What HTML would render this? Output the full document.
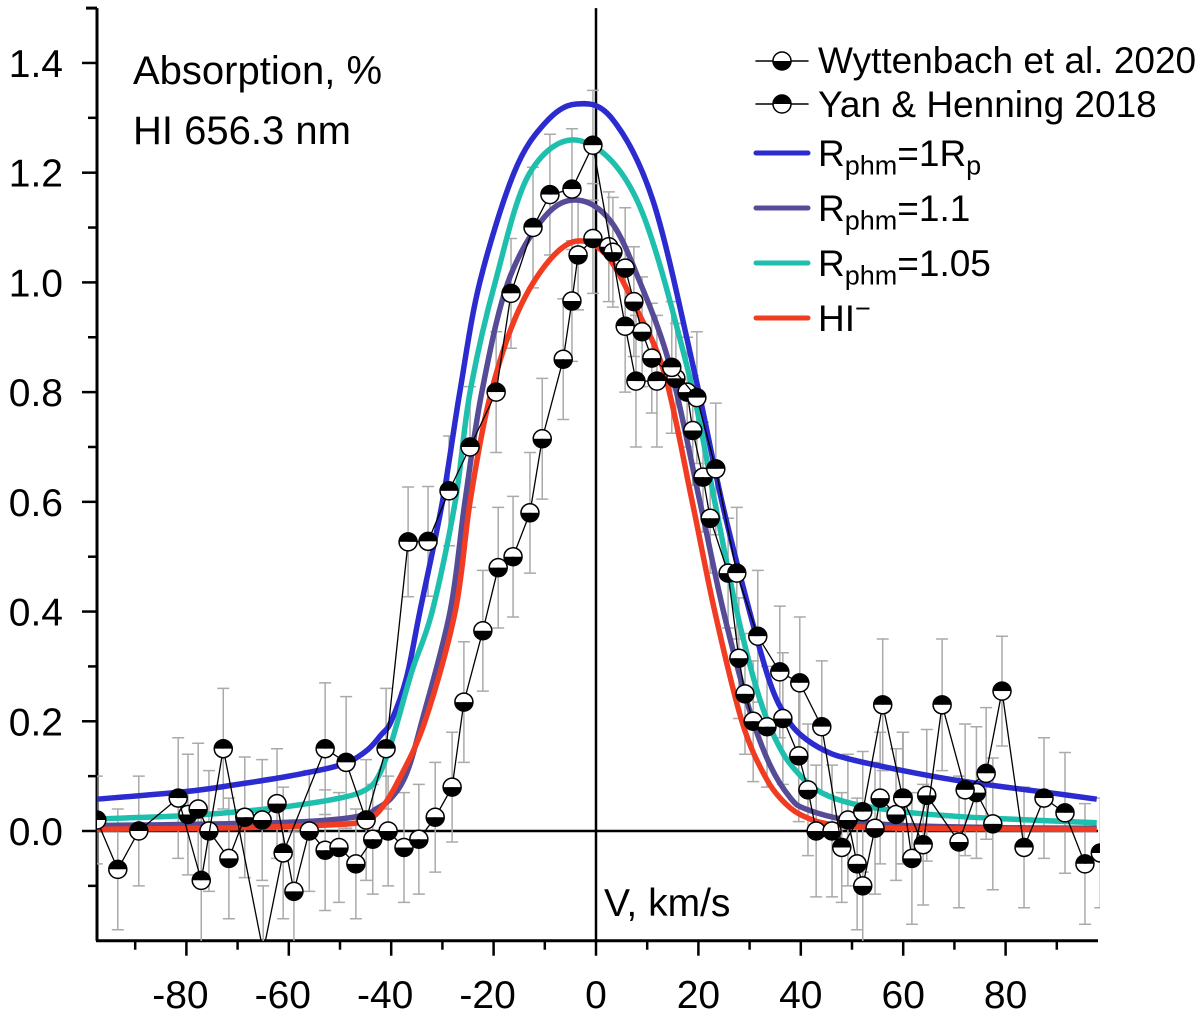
<!DOCTYPE html>
<html><head><meta charset="utf-8"><style>
html,body{margin:0;padding:0;background:#fff;}
svg{display:block;font-family:"Liberation Sans",Arial,sans-serif;}
</style></head><body>
<svg id="chart" width="1200" height="1014" viewBox="0 0 1200 1014" xmlns="http://www.w3.org/2000/svg">
<defs>
<clipPath id="plotclip"><rect x="97" y="0" width="1003" height="941"/></clipPath>
</defs>
<g id="axes"></g>
<g id="errs" clip-path="url(#plotclip)"></g>
<g id="models" clip-path="url(#plotclip)"></g>
<g id="data" clip-path="url(#plotclip)"></g>
<text x="133" y="84" font-size="40">Absorption, %</text>
<text x="133" y="144" font-size="40">HI 656.3 nm</text>
<text x="604" y="916" font-size="39">V, km/s</text>
<g id="legend"></g>
</svg>
<script>
const NS='http://www.w3.org/2000/svg';
const xTicks=[-80,-60,-40,-20,0,20,40,60,80];
const yTicks=[0.0,0.2,0.4,0.6,0.8,1.0,1.2,1.4];
const yTickLabels=['0.0','0.2','0.4','0.6','0.8','1.0','1.2','1.4'];

const yanV=[-97.5,-93.4,-89.3,-81.6,-77.1,-72.8,-65,-61.1,-52.9,-48.8,-44.9,-41,-36.7,-32.8,-28.7,-24.6,-19.5,-16.6,-12.3,-9,-4.7,-0.6,5.7,7.8,11.9,14.8,19.7,23.4,27.5,31.6,35.9,39.8,44.1,48,52.1,56,59.9,63.9,67.6,72.1,76.2,79.3,83.6,87.5,91.6,95.5,98.5];
const yanA=[0.02,-0.07,0,0.06,-0.09,0.15,-0.22,-0.04,0.15,0.125,0.02,0.15,0.527,0.528,0.62,0.70,0.80,0.98,1.10,1.16,1.17,1.25,0.92,0.82,0.82,0.845,0.79,0.66,0.47,0.355,0.29,0.27,0.19,-0.03,0.035,0.23,0.06,-0.025,0.23,0.075,0.105,0.255,-0.03,0.06,0.033,-0.06,-0.04];
const yanE=[0.08,0.11,0.10,0.11,0.12,0.11,0.12,0.12,0.12,0.12,0.11,0.11,0.10,0.10,0.10,0.11,0.11,0.10,0.11,0.11,0.11,0.10,0.12,0.12,0.12,0.12,0.12,0.12,0.12,0.12,0.12,0.12,0.12,0.10,0.11,0.12,0.12,0.11,0.12,0.12,0.12,0.10,0.11,0.11,0.11,0.11,0.10];

const wytV=[-79.7,-77.7,-75.6,-71.7,-68.6,-65.2,-62.3,-59,-56,-52.9,-50.2,-46.9,-43.6,-40.6,-37.5,-34.6,-31.4,-28.1,-25.8,-22.1,-19.1,-16.2,-12.9,-10.5,-6.4,-4.7,-3.5,-0.6,2.5,3.3,5.7,7.4,9,10.9,15.6,17.8,18.9,20.9,22.3,25.8,27.9,29.1,30.7,33.4,36.5,39.6,41.4,43,46.1,49.2,51,52.1,54.5,55.5,58.6,60,61.7,64.6,70.9,74.3,77.5];
const wytA=[0.03,0.04,0,-0.05,0.025,0.02,0.05,-0.11,0,-0.035,-0.03,-0.06,-0.015,0,-0.03,-0.015,0.025,0.08,0.235,0.365,0.48,0.50,0.58,0.715,0.86,0.966,1.05,1.08,1.065,1.055,1.026,0.965,0.91,0.862,0.825,0.80,0.73,0.645,0.57,0.47,0.315,0.25,0.20,0.19,0.205,0.137,0.075,0,0,0.02,-0.06,-0.10,0.005,0.06,0.03,0.06,-0.05,0.065,-0.02,0.07,0.013];
const wytE=[0.11,0.12,0.11,0.11,0.11,0.11,0.10,0.11,0.11,0.11,0.10,0.10,0.10,0.10,0.10,0.10,0.10,0.10,0.11,0.11,0.11,0.11,0.11,0.11,0.11,0.11,0.10,0.10,0.10,0.10,0.11,0.10,0.10,0.10,0.10,0.10,0.10,0.10,0.10,0.10,0.11,0.11,0.11,0.11,0.12,0.12,0.12,0.12,0.12,0.12,0.12,0.12,0.12,0.12,0.12,0.12,0.12,0.12,0.12,0.12,0.12];

const blueV=[-97.5,-80,-70,-60,-50,-45,-42,-40,-37,-34.4,-30,-26.6,-22.7,-16,-10,-4,3,11.1,19,24.6,30,34,37,40,45,50,60,70,80,90,97.8];
const blueA=[0.058,0.072,0.085,0.10,0.12,0.145,0.175,0.2,0.28,0.4,0.6,0.8,1.0,1.2,1.29,1.325,1.3,1.15,0.846,0.6,0.4,0.27,0.21,0.175,0.145,0.13,0.11,0.093,0.08,0.068,0.058];
const tealV=[-97.5,-80,-70,-60,-50,-45,-42.5,-40,-36,-32,-27.5,-24.6,-19.7,-12.9,-3,8,17.8,23.2,27.5,32,36,40,44,50,60,70,80,97.8];
const tealA=[0.022,0.028,0.035,0.045,0.06,0.075,0.1,0.16,0.29,0.4,0.6,0.8,1.0,1.2,1.258,1.15,0.846,0.6,0.4,0.24,0.15,0.1,0.07,0.05,0.035,0.027,0.022,0.015];
const purpV=[-97.5,-80,-60,-50,-45,-43,-40,-37,-34,-28.5,-25.6,-22.3,-17.2,-10,-3.5,3,8.6,14.5,20.3,24.9,30,34,38,41,49,60,80,97.8];
const purpA=[0.01,0.012,0.016,0.022,0.03,0.04,0.06,0.105,0.2,0.4,0.6,0.8,1.0,1.12,1.15,1.11,1.0,0.846,0.6,0.4,0.22,0.12,0.06,0.04,0.02,0.01,0.006,0.005];
const redV=[-97.5,-70,-50,-45,-42.2,-38.7,-33.4,-27.5,-24.6,-21,-16,-10,-4,2,8,13.5,18.8,23.2,28.5,33,37,41,46,55,70,97.8];
const redA=[0.003,0.006,0.012,0.02,0.038,0.09,0.2,0.4,0.6,0.78,0.93,1.03,1.075,1.05,0.95,0.83,0.6,0.4,0.2,0.1,0.05,0.025,0.012,0.006,0.004,0.003];

const X=v=>596+v*5.12;
const Y=a=>831-a*548.6;
function mk(tag,attrs,parent){const e=document.createElementNS(NS,tag);for(const k in attrs)e.setAttribute(k,attrs[k]);parent.appendChild(e);return e;}

const axes=document.getElementById('axes');
let e=mk('line',{x1:97,y1:Y(1.5),x2:97,y2:Y(-0.2),stroke:'#000','stroke-width':3},axes);


e=mk('line',{x1:96,y1:Y(-0.2),x2:1098,y2:Y(-0.2),stroke:'#000','stroke-width':3},axes);


e=mk('line',{x1:97,y1:Y(0),x2:1098,y2:Y(0),stroke:'#000','stroke-width':2.5},axes);


e=mk('line',{x1:X(0),y1:Y(1.5),x2:X(0),y2:Y(-0.2),stroke:'#000','stroke-width':2.5},axes);


mk('line',{x1:86,y1:Y(1.5),x2:97,y2:Y(1.5),stroke:'#000','stroke-width':3},axes);
for(let t=-0.1;t<=1.41;t+=0.1){const major=Math.abs(Math.round(t*10)%2)===0;mk('line',{x1:major?82:88,y1:Y(t),x2:97,y2:Y(t),stroke:'#000','stroke-width':2.5},axes);}
yTicks.forEach((t,i)=>{const tx=mk('text',{x:63,y:Y(t)+14,'font-size':39,'text-anchor':'end'},axes);tx.textContent=yTickLabels[i];

});
for(let t=-90;t<=90;t+=10){const major=t%20===0;mk('line',{x1:X(t),y1:Y(-0.2),x2:X(t),y2:Y(-0.2)+(major?15:9),stroke:'#000','stroke-width':2.5},axes);}
xTicks.forEach(t=>{const tx=mk('text',{x:X(t)-(t<0?6:0),y:1008,'font-size':39,'text-anchor':'middle'},axes);tx.textContent=String(t);

});

function smooth(vs,as){const p=vs.map((v,i)=>[X(v),Y(as[i])]);let d='M'+p[0][0]+','+p[0][1];
for(let i=0;i<p.length-1;i++){const p0=p[i-1]||p[i],p1=p[i],p2=p[i+1],p3=p[i+2]||p2;
const c1=[p1[0]+(p2[0]-p0[0])/6,p1[1]+(p2[1]-p0[1])/6],c2=[p2[0]-(p3[0]-p1[0])/6,p2[1]-(p3[1]-p1[1])/6];
d+=`C${c1[0]},${c1[1]} ${c2[0]},${c2[1]} ${p2[0]},${p2[1]}`;}return d;}
const models=document.getElementById('models');
[[blueV,blueA,'#2b2bd0','model-rphm-1'],[purpV,purpA,'#554b96','model-rphm-1-1'],[tealV,tealA,'#1fbfad','model-rphm-1-05'],[redV,redA,'#f23c22','model-hi-minus']].forEach(m=>{
const p=mk('path',{d:smooth(m[0],m[1]),fill:'none',stroke:m[2],'stroke-width':5.5,'stroke-linejoin':'round'},models);

});

const errs=document.getElementById('errs'),data=document.getElementById('data');
function marker(g,cx,cy,topBlack){
const r=9;
mk('path',{d:`M${cx-r},${cy}A${r},${r} 0 0 1 ${cx+r},${cy}Z`,fill:topBlack?'#000':'#fff'},g);
mk('path',{d:`M${cx-r},${cy}A${r},${r} 0 0 0 ${cx+r},${cy}Z`,fill:topBlack?'#fff':'#000'},g);
mk('circle',{cx,cy,r,fill:'none',stroke:'#000','stroke-width':1.5},g);}
function series(vs,as,es,topBlack,name){
vs.forEach((v,i)=>{const x=X(v),y1=Y(as[i]+es[i]),y2=Y(as[i]-es[i]);
mk('path',{d:`M${x},${y1}V${y2}M${x-6},${y1}H${x+6}M${x-6},${y2}H${x+6}`,stroke:'#aaa','stroke-width':1.5,fill:'none'},errs);});
const pl=mk('polyline',{points:vs.map((v,i)=>X(v)+','+Y(as[i])).join(' '),fill:'none',stroke:'#000','stroke-width':1.3},data);


vs.forEach((v,i)=>{const g=mk('g',{},data);


marker(g,X(v),Y(as[i]),topBlack);});}
series(wytV,wytA,wytE,false,'wyttenbach-2020');
series(yanV,yanA,yanE,true,'yan-henning-2018');

const lg=document.getElementById('legend');
function lgLine(y,col,name){const l=mk('line',{x1:756,y1:y,x2:808,y2:y,stroke:col,'stroke-width':col==='#000'?1.5:5,'stroke-linecap':'round'},lg);

}
lgLine(61,'#000','legend-wyttenbach-line');marker(lg,782,61,false);
lgLine(104,'#000','legend-yan-line');marker(lg,782,104,true);
lgLine(153,'#2b2bd0','legend-rphm-1-line');
lgLine(208,'#554b96','legend-rphm-1-1-line');
lgLine(263,'#1fbfad','legend-rphm-1-05-line');
lgLine(318,'#f23c22','legend-hi-minus-line');
</script>
<div style="position:absolute;left:0;top:0;width:1200px;height:1014px;pointer-events:none;font-family:'Liberation Sans',Arial,sans-serif;font-size:37px;line-height:40px;color:#000;">
<div style="position:absolute;left:818px;top:41px;">Wyttenbach et al. 2020</div>
<div style="position:absolute;left:818px;top:85px;">Yan &amp; Henning 2018</div>
<div style="position:absolute;left:818px;top:134px;">R<sub style="font-size:27px;line-height:0">phm</sub>=1R<sub style="font-size:27px;line-height:0">p</sub></div>
<div style="position:absolute;left:818px;top:189px;">R<sub style="font-size:27px;line-height:0">phm</sub>=1.1</div>
<div style="position:absolute;left:818px;top:244px;">R<sub style="font-size:27px;line-height:0">phm</sub>=1.05</div>
<div style="position:absolute;left:818px;top:299px;">HI<sup style="font-size:27px;line-height:0">−</sup></div>
</div>
</body></html>
